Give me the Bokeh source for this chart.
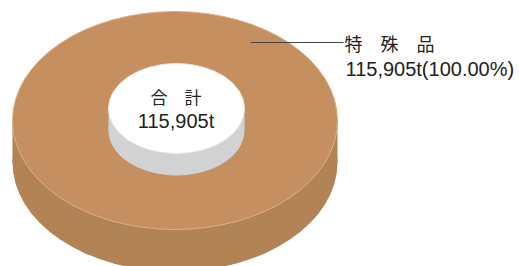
from bokeh.plotting import figure
from bokeh.models import Range1d
from bokeh.embed import file_html
from bokeh.resources import INLINE
from bokeh.core.properties import value

# data
categories = ["特　殊　品"]
amounts = [115905]
unit = "t"
total_label = "合　計"

total = sum(amounts)
shares = [a / total * 100 for a in amounts]

W, H = 519, 266
p = figure(width=W, height=H, output_backend="svg", toolbar_location=None,
           x_range=Range1d(0, W), y_range=Range1d(H, 0),
           min_border=0, outline_line_color=None)
p.axis.visible = False
p.grid.visible = False
p.background_fill_color = "white"
p.border_fill_color = "white"

TOP = "#C58F5F"
SIDE = "#B28355"
EDGE = "#DDB089"

# outer disc geometry
cx, cy, rx, ry, depth = 174.5, 120, 162.5, 109, 42
p.ellipse(x=[cx], y=[cy + depth], width=[2 * rx], height=[2 * ry],
          fill_color=SIDE, line_color=None)
p.quad(left=[cx - rx], right=[cx + rx], top=[cy], bottom=[cy + depth],
       fill_color=SIDE, line_color=None)
p.ellipse(x=[cx], y=[cy], width=[2 * rx], height=[2 * ry],
          fill_color=TOP, line_color=EDGE, line_width=1)

# centre plug
icx, icy, irx, iry, idepth = 176, 108, 68, 45, 22
p.ellipse(x=[icx], y=[icy + idepth], width=[2 * irx], height=[2 * iry],
          fill_color="#D0D2D4", line_color=None)
p.quad(left=[icx - irx], right=[icx + irx], top=[icy], bottom=[icy + idepth],
       fill_color="#D0D2D4", line_color=None)
p.ellipse(x=[icx], y=[icy], width=[2 * irx], height=[2 * iry],
          fill_color="white", line_color="#E8E8E8", line_width=1)

# centre labels
p.text(x=[cx + 1], y=[96], text=[total_label], text_align="center",
       text_baseline="middle", text_font=value("Noto Sans CJK JP"),
       text_font_size="17px", text_color="#222222")
p.text(x=[cx + 1], y=[120], text=[f"{total:,}{unit}"], text_align="center",
       text_baseline="middle", text_font=value("Liberation Sans"),
       text_font_size="20px", text_color="#222222")

# leader line and category label
p.line(x=[250, 343], y=[42, 42], line_color="#444444", line_width=1.2)
for cat, amt, sh in zip(categories, amounts, shares):
    p.text(x=[344], y=[42], text=[cat], text_align="left",
           text_baseline="middle", text_font=value("Noto Sans CJK JP"),
           text_font_size="18px", text_color="#222222")
    p.text(x=[345], y=[68], text=[f"{amt:,}{unit}({sh:.2f}%)"],
           text_align="left", text_baseline="middle",
           text_font=value("Liberation Sans"), text_font_size="20px",
           text_color="#222222")

open("out.html", "w").write(file_html(p, INLINE))
